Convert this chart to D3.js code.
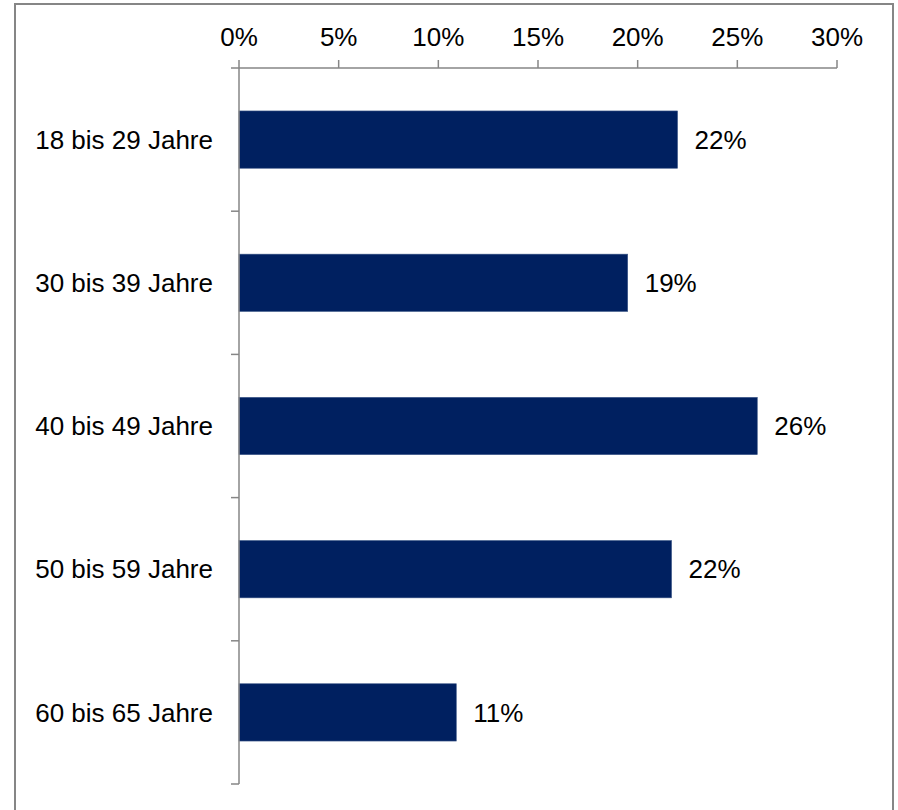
<!DOCTYPE html>
<html><head><meta charset="utf-8">
<script src="https://cdn.jsdelivr.net/npm/d3@7"></script>
<style>body{margin:0;background:#fff}svg{display:block}</style>
</head><body>
<script>
const categories = ["18 bis 29 Jahre","30 bis 39 Jahre","40 bis 49 Jahre","50 bis 59 Jahre","60 bis 65 Jahre"];
const values = [0.22, 0.195, 0.26, 0.217, 0.109];
const valueLabels = ["22%","19%","26%","22%","11%"];
const tickValues = [0,0.05,0.10,0.15,0.20,0.25,0.30];

const W=898,H=810;
const svg=d3.select("body").append("svg").attr("width",W).attr("height",H);
const font="Liberation Sans, Arial, sans-serif";
const fs=26;
svg.append("rect").attr("x",15).attr("y",4).attr("width",878).attr("height",H+10)
  .attr("fill","#fff").attr("stroke","#868686").attr("stroke-width",2);

const x=d3.scaleLinear().domain([0,0.30]).range([239,837]);
const y=d3.scaleBand().domain(categories).range([68,784]).paddingInner(0.6).paddingOuter(0.3);
const step=y.step();

// bars
svg.selectAll("rect.bar").data(values).join("rect").attr("class","bar")
  .attr("x",x(0)).attr("y",(d,i)=>y(categories[i]))
  .attr("width",d=>x(d)-x(0)).attr("height",y.bandwidth())
  .attr("fill","#002060").attr("stroke","#3b5687").attr("stroke-width",0.6);

// top axis
const g=svg.append("g");
g.append("line").attr("x1",231).attr("x2",x(0.30)).attr("y1",68).attr("y2",68)
  .attr("stroke","#868686").attr("stroke-width",1.5);
tickValues.forEach(t=>{
  g.append("line").attr("x1",x(t)).attr("x2",x(t)).attr("y1",60).attr("y2",68)
   .attr("stroke","#868686").attr("stroke-width",1.5);
  g.append("text").attr("x",x(t)).attr("y",46).attr("text-anchor","middle")
   .attr("font-family",font).attr("font-size",fs).attr("fill","#000")
   .text(d3.format(".0%")(t));
});
// left axis
g.append("line").attr("x1",239).attr("x2",239).attr("y1",68).attr("y2",784)
  .attr("stroke","#868686").attr("stroke-width",1.5);
for(let i=1;i<=categories.length;i++){
  const yy=68+i*step;
  g.append("line").attr("x1",231).attr("x2",239).attr("y1",yy).attr("y2",yy)
   .attr("stroke","#868686").attr("stroke-width",1.5);
}
// category labels
svg.selectAll("text.cat").data(categories).join("text").attr("class","cat")
  .attr("x",213).attr("y",d=>y(d)+y.bandwidth()/2).attr("dy","0.35em")
  .attr("text-anchor","end").attr("font-family",font).attr("font-size",fs).attr("fill","#000")
  .text(d=>d);
// value labels
svg.selectAll("text.val").data(values).join("text").attr("class","val")
  .attr("x",d=>x(d)+17).attr("y",(d,i)=>y(categories[i])+y.bandwidth()/2).attr("dy","0.35em")
  .attr("font-family",font).attr("font-size",fs).attr("fill","#000")
  .text((d,i)=>valueLabels[i]);
</script>
</body></html>
